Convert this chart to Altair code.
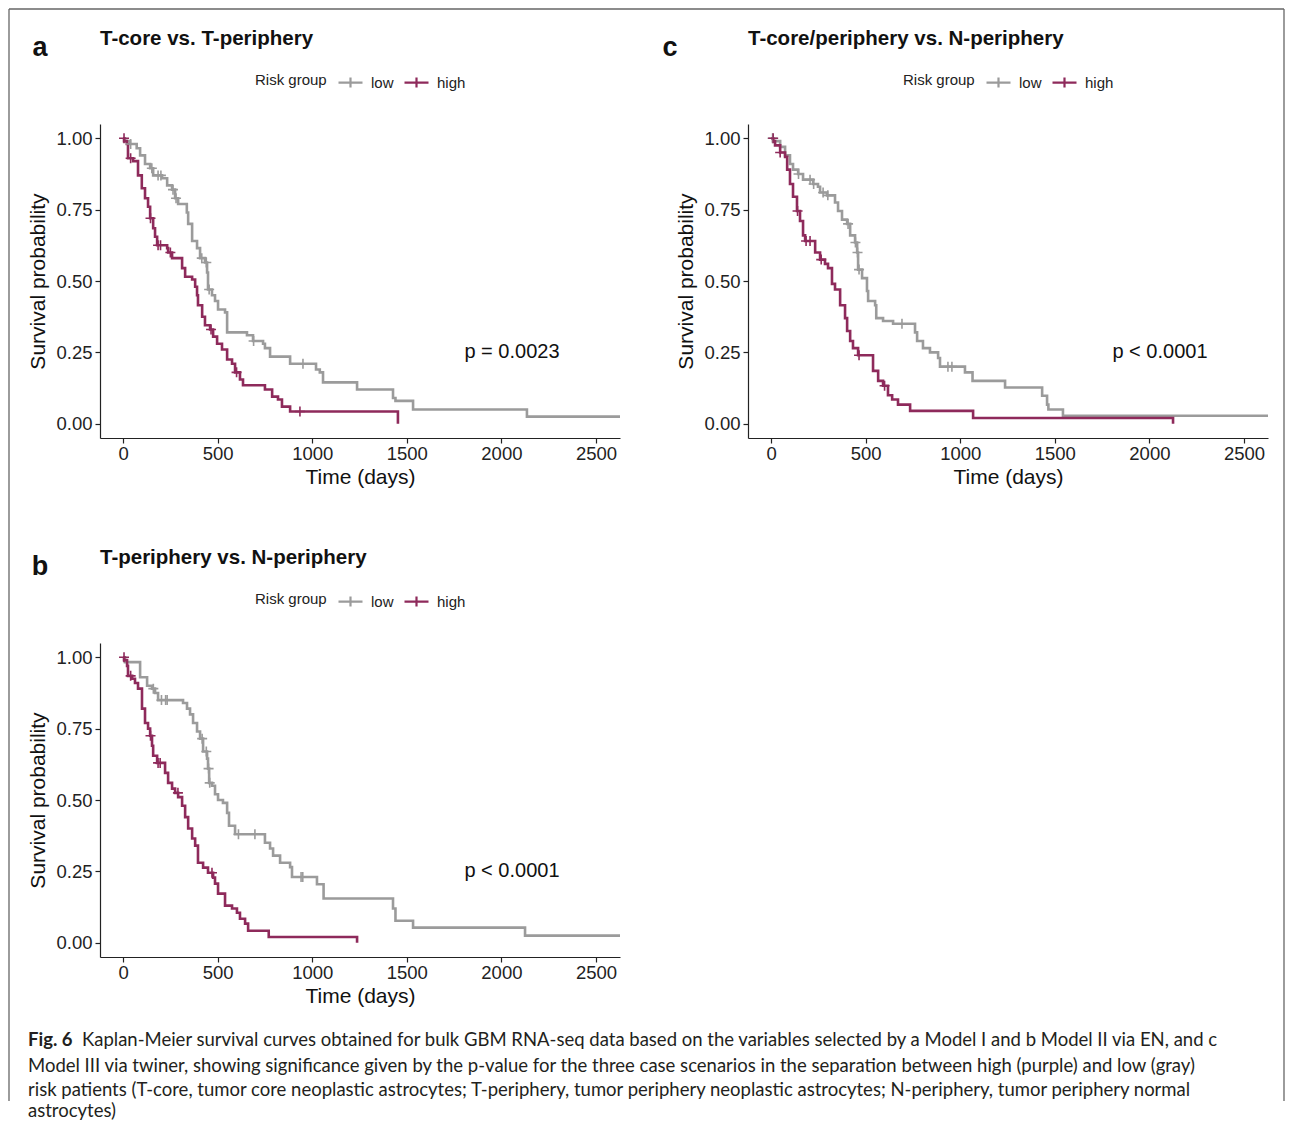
import altair as alt
import pandas as pd

GRAY = "#9b9b9b"
PURPLE = "#8e2a5b"
FONT = "Liberation Sans"

# ---------------- Panel a: T-core vs. T-periphery ----------------
a_low_t = [0, 10, 37, 72, 90, 116, 143, 159, 206, 233, 259, 275, 291, 337, 344, 365, 391, 407, 433, 444,
           449, 470, 486, 502, 539, 550, 655, 687, 740, 750, 777, 883, 1020, 1040, 1057, 1237, 1427, 1440, 1533, 2135, 2627]
a_low_s = [1.0, 0.99, 0.98, 0.965, 0.94, 0.91, 0.895, 0.87, 0.86, 0.835, 0.82, 0.79, 0.77, 0.74, 0.70, 0.64, 0.615, 0.58, 0.565, 0.53,
           0.47, 0.45, 0.43, 0.40, 0.39, 0.32, 0.31, 0.29, 0.28, 0.265, 0.235, 0.21, 0.19, 0.18, 0.145, 0.12, 0.09, 0.08, 0.05, 0.025, 0.025]
a_low_ct = [40, 152, 185, 200, 264, 280, 416, 440, 455, 690, 951]
a_low_cs = [0.98, 0.895, 0.87, 0.87, 0.82, 0.79, 0.58, 0.565, 0.47, 0.29, 0.21]

a_high_t = [0, 5, 20, 26, 53, 79, 99, 116, 132, 143, 159, 169, 180, 233, 238, 259, 312, 328, 365, 381,
            391, 396, 418, 433, 460, 476, 497, 523, 550, 576, 592, 618, 634, 750, 788, 819, 840, 883, 1453]
a_high_s = [1.0, 0.99, 0.98, 0.93, 0.92, 0.87, 0.825, 0.79, 0.76, 0.72, 0.685, 0.655, 0.625, 0.615, 0.60, 0.58, 0.545, 0.515, 0.505, 0.48,
            0.45, 0.415, 0.375, 0.345, 0.33, 0.305, 0.28, 0.26, 0.225, 0.21, 0.18, 0.155, 0.135, 0.12, 0.095, 0.085, 0.06, 0.043, 0.0]
a_high_ct = [5, 40, 145, 185, 198, 250, 465, 600, 935]
a_high_cs = [1.0, 0.93, 0.72, 0.625, 0.625, 0.60, 0.33, 0.18, 0.043]

# ---------------- Panel b: T-periphery vs. N-periphery ----------------
b_low_t = [0, 10, 90, 127, 153, 169, 185, 317, 338, 354, 370, 391, 407, 423, 444, 449, 455, 470, 486, 502,
           528, 550, 560, 592, 750, 777, 793, 830, 883, 893, 1025, 1060, 1427, 1440, 1533, 2125, 2627]
b_low_s = [1.0, 0.983, 0.93, 0.90, 0.89, 0.875, 0.85, 0.84, 0.82, 0.80, 0.77, 0.74, 0.715, 0.67, 0.645, 0.61, 0.56, 0.55, 0.52, 0.50,
           0.49, 0.455, 0.41, 0.38, 0.35, 0.33, 0.305, 0.28, 0.265, 0.23, 0.205, 0.155, 0.12, 0.077, 0.053, 0.025, 0.025]
b_low_ct = [160, 203, 225, 233, 418, 440, 452, 458, 610, 697, 941, 950]
b_low_cs = [0.89, 0.85, 0.85, 0.85, 0.715, 0.67, 0.61, 0.56, 0.38, 0.38, 0.23, 0.23]

b_high_t = [0, 5, 21, 26, 48, 63, 79, 100, 116, 132, 143, 153, 159, 180, 222, 238, 259, 275, 291, 312,
            328, 344, 365, 381, 396, 423, 449, 476, 486, 502, 539, 576, 602, 618, 645, 661, 770, 1237]
b_high_s = [1.0, 0.99, 0.97, 0.935, 0.925, 0.91, 0.89, 0.82, 0.77, 0.75, 0.725, 0.69, 0.655, 0.63, 0.595, 0.56, 0.54, 0.525, 0.51, 0.48,
            0.44, 0.40, 0.365, 0.34, 0.28, 0.263, 0.245, 0.228, 0.207, 0.172, 0.13, 0.12, 0.105, 0.084, 0.067, 0.042, 0.02, 0.0]
b_high_ct = [5, 40, 145, 185, 196, 290, 470]
b_high_cs = [1.0, 0.935, 0.725, 0.63, 0.63, 0.525, 0.245]

# ---------------- Panel c: T-core/periphery vs. N-periphery ----------------
c_low_t = [0, 11, 48, 74, 100, 116, 143, 169, 222, 248, 259, 296, 338, 354, 375, 402, 418, 444, 455, 460,
           481, 507, 513, 550, 556, 592, 645, 761, 772, 803, 840, 883, 893, 1025, 1065, 1237, 1433, 1459, 1466, 1543, 2627]
c_low_s = [1.0, 0.99, 0.97, 0.94, 0.91, 0.89, 0.875, 0.855, 0.84, 0.83, 0.81, 0.80, 0.775, 0.745, 0.715, 0.70, 0.66, 0.635, 0.60, 0.54,
           0.51, 0.465, 0.43, 0.415, 0.37, 0.36, 0.35, 0.32, 0.29, 0.265, 0.25, 0.23, 0.20, 0.18, 0.15, 0.127, 0.098, 0.067, 0.05, 0.028, 0.028]
c_low_ct = [8, 145, 206, 225, 275, 300, 407, 446, 457, 465, 692, 935, 956]
c_low_cs = [1.0, 0.875, 0.855, 0.84, 0.81, 0.80, 0.70, 0.635, 0.60, 0.54, 0.35, 0.20, 0.20]

c_high_t = [0, 11, 21, 48, 74, 85, 100, 116, 137, 153, 169, 180, 233, 259, 285, 301, 322, 338, 365, 391,
            402, 418, 433, 460, 539, 566, 592, 618, 640, 671, 735, 1068, 2125]
c_high_s = [1.0, 0.99, 0.975, 0.95, 0.935, 0.89, 0.84, 0.795, 0.745, 0.71, 0.66, 0.64, 0.60, 0.575, 0.56, 0.545, 0.49, 0.47, 0.415, 0.37,
            0.325, 0.29, 0.265, 0.24, 0.185, 0.15, 0.133, 0.10, 0.085, 0.067, 0.045, 0.02, 0.0]
c_high_ct = [11, 48, 140, 185, 206, 265, 465, 600]
c_high_cs = [1.0, 0.95, 0.745, 0.64, 0.64, 0.575, 0.24, 0.133]

GROUPS = ["low", "high"]
X_TICKS = [0, 500, 1000, 1500, 2000, 2500]
Y_TICKS = [0.0, 0.25, 0.5, 0.75, 1.0]
P_TIME, P_SURV = 2056, 0.25

caption_lines = [
    "Kaplan-Meier survival curves obtained for bulk GBM RNA-seq data based on the variables selected by a Model I and b Model II via EN, and c",
    "Model III via twiner, showing significance given by the p-value for the three case scenarios in the separation between high (purple) and low (gray)",
    "risk patients (T-core, tumor core neoplastic astrocytes; T-periphery, tumor periphery neoplastic astrocytes; N-periphery, tumor periphery normal",
    "astrocytes)",
]

W, H = 520, 314
CENS_SYM = "M-1,0H1M0,-1V1"
LEG_SYM = "M-1,0H1M0,-0.42V0.42"


def frame(t_low, s_low, t_high, s_high):
    return pd.concat([
        pd.DataFrame({"time": t_low, "surv": s_low, "group": "low"}),
        pd.DataFrame({"time": t_high, "surv": s_high, "group": "high"}),
    ], ignore_index=True)


def panel(low_t, low_s, low_ct, low_cs, high_t, high_s, high_ct, high_cs,
          letter, title, ptext, letter_dx, extra=None):
    curves = frame(low_t, low_s, high_t, high_s)
    cens = frame(low_ct, low_cs, high_ct, high_cs)
    x = alt.X("time:Q", scale=alt.Scale(domain=[-122, 2627], nice=False, zero=False),
              axis=alt.Axis(values=X_TICKS, format="d", title="Time (days)", labelPadding=1, titlePadding=4))
    y = alt.Y("surv:Q", scale=alt.Scale(domain=[-0.05, 1.05], nice=False, zero=False),
              axis=alt.Axis(values=Y_TICKS, format=".2f", title="Survival probability", labelPadding=3, titlePadding=7))
    color = alt.Color("group:N", scale=alt.Scale(domain=GROUPS, range=[GRAY, PURPLE]),
                      legend=alt.Legend(orient="none", legendX=155, legendY=-55, direction="horizontal",
                                        title="Risk group", titleOrient="left", titleFont=FONT,
                                        titleFontSize=15, titleFontWeight="normal", titleColor="#222",
                                        titlePadding=10, labelFont=FONT, labelFontSize=15,
                                        labelColor="#222", labelOffset=7, columnPadding=6,
                                        symbolType=LEG_SYM, symbolSize=576, symbolStrokeWidth=2.2))
    lines = alt.Chart(curves).mark_line(interpolate="step-after", strokeWidth=2.6).encode(
        x=x, y=y, color=color)
    ticks = alt.Chart(cens).mark_point(shape=CENS_SYM, filled=False, size=100, strokeWidth=1.6,
                                       opacity=1).encode(x=x, y=y, color=color)
    pval = alt.Chart(pd.DataFrame({"time": [P_TIME], "surv": [P_SURV], "t": [ptext]})).mark_text(
        font=FONT, fontSize=20, color="#111", align="center", baseline="middle").encode(
        x=x, y=y, text="t:N")
    lab = alt.Chart(pd.DataFrame({"t": [letter]})).mark_text(
        font=FONT, fontSize=27, fontWeight="bold", color="#111", align="center", baseline="middle").encode(
        x=alt.value(letter_dx), y=alt.value(-76.5), text="t:N")
    ttl = alt.Chart(pd.DataFrame({"t": [title]})).mark_text(
        font=FONT, fontSize=20.5, fontWeight="bold", color="#111", align="left", baseline="middle").encode(
        x=alt.value(0), y=alt.value(-85.5), text="t:N")
    layers = [lines, ticks, pval, lab, ttl]
    if extra:
        layers += extra
    return alt.layer(*layers).properties(width=W, height=H)


# border and caption, drawn in panel b's coordinates
B_TOP, B_LEFT, B_RIGHT, B_BOTTOM = -634, -91, 1184, 458
border = [
    alt.Chart(pd.DataFrame({"k": [0]})).mark_rule(color="#666", strokeWidth=1.3).encode(
        x=alt.value(B_LEFT), y=alt.value(B_TOP), y2=alt.value(B_BOTTOM)),
    alt.Chart(pd.DataFrame({"k": [0]})).mark_rule(color="#666", strokeWidth=1.3).encode(
        x=alt.value(B_LEFT), x2=alt.value(B_RIGHT), y=alt.value(B_TOP)),
    alt.Chart(pd.DataFrame({"k": [0]})).mark_rule(color="#666", strokeWidth=1.3).encode(
        x=alt.value(B_RIGHT), y=alt.value(B_TOP), y2=alt.value(B_BOTTOM)),
]
CAP_SIZE = 18.5
cap_y = [397, 423, 447, 468]
cap_x = [-18, -72, -72, -72]
caption = [
    alt.Chart(pd.DataFrame({"t": ["Fig. 6"]})).mark_text(
        font="Lato", fontSize=CAP_SIZE, fontWeight="bold", color="#231f20", align="left", baseline="middle").encode(
        x=alt.value(-72), y=alt.value(cap_y[0]), text="t:N"),
]
for i, line in enumerate(caption_lines):
    caption.append(alt.Chart(pd.DataFrame({"t": [line]})).mark_text(
        font="Lato", fontSize=CAP_SIZE, color="#231f20", align="left", baseline="middle").encode(
        x=alt.value(cap_x[i]), y=alt.value(cap_y[i]), text="t:N"))

pa = panel(a_low_t, a_low_s, a_low_ct, a_low_cs, a_high_t, a_high_s, a_high_ct, a_high_cs,
           "a", "T-core vs. T-periphery", "p = 0.0023", -60)
pc = panel(c_low_t, c_low_s, c_low_ct, c_low_cs, c_high_t, c_high_s, c_high_ct, c_high_cs,
           "c", "T-core/periphery vs. N-periphery", "p < 0.0001", -78)
pb = panel(b_low_t, b_low_s, b_low_ct, b_low_cs, b_high_t, b_high_s, b_high_ct, b_high_cs,
           "b", "T-periphery vs. N-periphery", "p < 0.0001", -60, extra=border + caption)

chart = alt.concat(pa, pc, pb, columns=2, spacing={"row": 205, "column": 128}, bounds="flush").resolve_scale(
    x="independent", y="independent", color="independent").resolve_legend(color="independent").properties(
    padding=0).configure_view(stroke=None).configure_axis(
    grid=False, domainColor="#222", domainWidth=1.2, tickColor="#222", tickWidth=1.2, tickSize=5,
    labelFont=FONT, labelFontSize=18.5, labelColor="#222",
    titleFont=FONT, titleFontSize=21, titleFontWeight="normal", titleColor="#111")

chart.save("out.html", embed_options={"renderer": "svg", "actions": False})
